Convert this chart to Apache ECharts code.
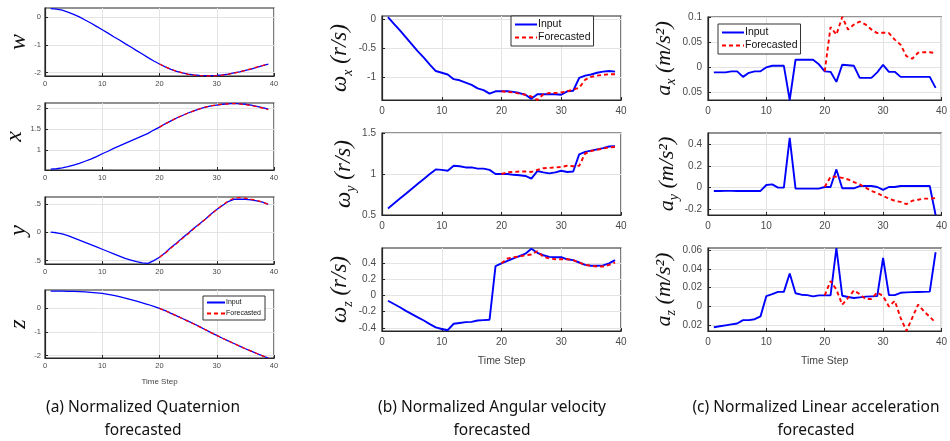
<!DOCTYPE html>
<html><head><meta charset="utf-8">
<script src="https://cdn.jsdelivr.net/npm/echarts@6/dist/echarts.min.js"></script>
<style>html,body{margin:0;padding:0;background:#fff}#c{width:950px;height:441px}</style>
</head><body><div id="c"></div>
<script>
// ---------- data ----------
const STEPS = [1,2,3,4,5,6,7,8,9,10,11,12,13,14,15,16,17,18,19,20,21,22,23,24,25,26,27,28,29,30,31,32,33,34,35,36,37,38,39];
const FC_STEPS = [20,21,22,23,24,25,26,27,28,29,30,31,32,33,34,35,36,37,38,39];

// (a) quaternion
const W_IN = [0.30,0.28,0.24,0.17,0.09,0.0,-0.11,-0.22,-0.34,-0.46,-0.58,-0.71,-0.83,-0.96,-1.08,-1.21,-1.33,-1.46,-1.58,-1.69,-1.79,-1.88,-1.95,-2.01,-2.05,-2.08,-2.10,-2.11,-2.11,-2.10,-2.08,-2.05,-2.01,-1.97,-1.92,-1.87,-1.81,-1.75,-1.69];
const W_FC = [-1.69,-1.79,-1.88,-1.95,-2.01,-2.06,-2.09,-2.11,-2.12,-2.12,-2.11,-2.09,-2.06,-2.02,-1.97,-1.92,-1.86,-1.80,-1.75,-1.69];
const X_IN = [0.54,0.55,0.57,0.60,0.64,0.68,0.73,0.78,0.84,0.91,0.97,1.04,1.10,1.16,1.22,1.28,1.34,1.40,1.48,1.55,1.63,1.70,1.77,1.83,1.89,1.94,1.99,2.03,2.06,2.08,2.10,2.11,2.12,2.11,2.10,2.08,2.05,2.02,1.98];
const X_FC = [1.55,1.63,1.70,1.77,1.83,1.89,1.94,1.99,2.03,2.06,2.09,2.10,2.11,2.12,2.11,2.09,2.07,2.04,2.01,1.97];
const Y_IN = [0.0,-0.01,-0.03,-0.06,-0.10,-0.14,-0.18,-0.22,-0.26,-0.30,-0.34,-0.38,-0.42,-0.46,-0.49,-0.52,-0.54,-0.55,-0.50,-0.44,-0.36,-0.27,-0.19,-0.10,-0.02,0.07,0.15,0.23,0.32,0.40,0.47,0.54,0.58,0.58,0.58,0.57,0.55,0.53,0.49];
const Y_FC = [-0.44,-0.37,-0.28,-0.20,-0.11,-0.03,0.06,0.14,0.23,0.31,0.40,0.48,0.55,0.60,0.61,0.60,0.58,0.56,0.53,0.49];
const Z_IN = [0.71,0.71,0.71,0.70,0.70,0.69,0.68,0.66,0.64,0.62,0.58,0.53,0.48,0.42,0.36,0.29,0.22,0.15,0.07,-0.01,-0.11,-0.22,-0.33,-0.44,-0.55,-0.66,-0.78,-0.91,-1.03,-1.15,-1.27,-1.38,-1.49,-1.60,-1.71,-1.81,-1.91,-2.01,-2.10];
const Z_FC = [-0.01,-0.11,-0.22,-0.33,-0.44,-0.56,-0.67,-0.79,-0.91,-1.03,-1.15,-1.27,-1.38,-1.49,-1.60,-1.71,-1.81,-1.91,-2.01,-2.10];

// (b) angular velocity
const WX_IN = [0.03,-0.085,-0.2,-0.32,-0.44,-0.56,-0.67,-0.79,-0.90,-0.93,-0.96,-1.04,-1.06,-1.10,-1.14,-1.20,-1.23,-1.29,-1.25,-1.25,-1.25,-1.26,-1.28,-1.31,-1.38,-1.30,-1.30,-1.30,-1.30,-1.31,-1.25,-1.24,-1.02,-0.98,-0.96,-0.93,-0.91,-0.90,-0.91];
const WX_FC = [-1.25,-1.26,-1.27,-1.29,-1.31,-1.34,-1.40,-1.30,-1.28,-1.28,-1.27,-1.25,-1.22,-1.19,-1.05,-1.00,-0.98,-0.965,-0.955,-0.955];
const WY_IN = [0.58,0.64,0.70,0.76,0.82,0.88,0.94,1.00,1.056,1.05,1.04,1.10,1.095,1.08,1.08,1.065,1.065,1.05,1.0,1.0,1.0,0.99,0.985,0.976,0.944,1.036,1.02,1.008,1.02,1.04,1.024,1.03,1.24,1.27,1.285,1.30,1.315,1.335,1.34];
const WY_FC = [1.0,1.02,1.025,1.03,1.03,1.025,1.05,1.07,1.075,1.08,1.085,1.10,1.095,1.10,1.25,1.28,1.295,1.31,1.325,1.33];
const WZ_IN = [-0.065,-0.105,-0.145,-0.19,-0.23,-0.27,-0.31,-0.355,-0.395,-0.415,-0.43,-0.35,-0.34,-0.33,-0.327,-0.31,-0.305,-0.30,0.365,0.40,0.43,0.46,0.49,0.52,0.58,0.53,0.50,0.48,0.475,0.475,0.45,0.44,0.41,0.38,0.37,0.37,0.375,0.40,0.44];
const WZ_FC = [0.40,0.46,0.475,0.485,0.50,0.51,0.55,0.48,0.46,0.45,0.45,0.45,0.44,0.41,0.38,0.37,0.36,0.36,0.38,0.41];

// (c) linear acceleration
const AX_IN = [-0.01,-0.01,-0.01,-0.008,-0.008,-0.019,-0.011,-0.008,-0.008,0.0,0.003,0.003,0.003,-0.065,0.015,0.015,0.015,0.015,0.006,-0.008,-0.009,-0.029,0.005,0.004,0.003,-0.021,-0.021,-0.021,-0.01,0.005,-0.009,-0.009,-0.019,-0.019,-0.019,-0.019,-0.019,-0.019,-0.041];
const AX_FC = [-0.008,0.08,0.065,0.10,0.075,0.085,0.091,0.085,0.075,0.068,0.069,0.068,0.055,0.045,0.022,0.017,0.029,0.03,0.03,0.028];
const AY_IN = [-0.03,-0.03,-0.029,-0.029,-0.03,-0.03,-0.03,-0.03,-0.03,0.024,0.03,0.0,0.0,0.455,-0.009,-0.009,-0.009,-0.009,-0.009,0.006,0.006,0.167,-0.006,-0.006,-0.006,0.015,0.015,0.015,0.006,-0.021,0.006,0.006,0.015,0.015,0.015,0.015,0.015,0.015,-0.25];
const AY_FC = [0.006,0.10,0.10,0.09,0.075,0.05,0.03,0.0,-0.03,-0.05,-0.075,-0.10,-0.12,-0.13,-0.15,-0.12,-0.11,-0.10,-0.10,-0.095];
const AZ_IN = [-0.022,-0.021,-0.02,-0.019,-0.018,-0.0145,-0.0145,-0.0135,-0.0105,0.011,0.013,0.0155,0.0155,0.035,0.014,0.0125,0.012,0.0107,0.0118,0.0118,0.0118,0.062,0.0114,0.010,0.009,0.0097,0.0104,0.0107,0.011,0.0514,0.012,0.012,0.0145,0.015,0.0152,0.0154,0.0155,0.0157,0.0575];
const AZ_FC = [0.0118,0.027,0.018,0.002,0.009,0.017,0.013,0.008,0.008,0.015,0.011,0.0,0.006,-0.012,-0.026,-0.012,0.002,-0.005,-0.011,-0.017];

// tick values and labels (as printed in the figure)
const X_TICKS = [0,10,20,30,40];
const W_TICKS = [-2,-1,0];          const W_LABELS = ['-2','-1','0'];
const QX_TICKS = [1,1.5,2];         const QX_LABELS = ['1','1.5','2'];
const QY_TICKS = [-0.5,0,0.5];      const QY_LABELS = ['.5','0','.5'];
const QZ_TICKS = [-2,-1,0];         const QZ_LABELS = ['-2','-1','0'];
const WX_TICKS = [-1,-0.5,0];       const WX_LABELS = ['-1','-0.5','0'];
const WY_TICKS = [0.5,1,1.5];       const WY_LABELS = ['0.5','1','1.5'];
const WZ_TICKS = [-0.4,-0.2,0,0.2,0.4]; const WZ_LABELS = ['-0.4','-0.2','0','0.2','0.4'];
const AX_TICKS = [-0.05,0,0.05,0.1];    const AX_LABELS = ['0.05','0','0.05','0.1'];
const AY_TICKS = [-0.2,0,0.2,0.4];      const AY_LABELS = ['-0.2','0','0.2','0.4'];
const AZ_TICKS = [-0.02,0,0.02,0.04,0.06]; const AZ_LABELS = ['0.02','0','0.02','0.04','0.06'];

const SERIES_NAMES = ['Input','Forecasted'];
const CAPTIONS = [
  ['(a) Normalized Quaternion','forecasted'],
  ['(b) Normalized Angular velocity','forecasted'],
  ['(c) Normalized Linear acceleration','forecasted']
];
const X_NAME = 'Time Step';

// ---------- layout ----------
const serifIt = {fontFamily:'Liberation Serif', fontStyle:'italic', color:'#111'};
const panels = [
  {inp:W_IN, fc:W_FC, ymin:-2.12, ymax:0.32, ticks:W_TICKS, labels:W_LABELS, g:{left:45,top:8,width:229,height:68}, col:0, name:'{m|w}'},
  {inp:X_IN, fc:X_FC, ymin:0.52, ymax:2.13, ticks:QX_TICKS, labels:QX_LABELS, g:{left:45,top:103,width:229,height:67}, col:0, name:'{m|x}'},
  {inp:Y_IN, fc:Y_FC, ymin:-0.56, ymax:0.62, ticks:QY_TICKS, labels:QY_LABELS, g:{left:45,top:197,width:229,height:67}, col:0, name:'{m|y}'},
  {inp:Z_IN, fc:Z_FC, ymin:-2.1, ymax:0.76, ticks:QZ_TICKS, labels:QZ_LABELS, g:{left:45,top:290,width:229,height:68}, col:0, name:'{m|z}', bottom:true},
  {inp:WX_IN, fc:WX_FC, ymin:-1.4, ymax:0.05, ticks:WX_TICKS, labels:WX_LABELS, g:{left:382,top:16,width:239,height:84}, col:1, name:'{m|ω}{s|x}{m| (r/s)}'},
  {inp:WY_IN, fc:WY_FC, ymin:0.5, ymax:1.5, ticks:WY_TICKS, labels:WY_LABELS, g:{left:382,top:133,width:239,height:82}, col:1, name:'{m|ω}{s|y}{m| (r/s)}'},
  {inp:WZ_IN, fc:WZ_FC, ymin:-0.44, ymax:0.59, ticks:WZ_TICKS, labels:WZ_LABELS, g:{left:382,top:248,width:239,height:83}, col:1, name:'{m|ω}{s|z}{m| (r/s)}', bottom:true},
  {inp:AX_IN, fc:AX_FC, ymin:-0.065, ymax:0.1, ticks:AX_TICKS, labels:AX_LABELS, g:{left:708,top:17,width:236,height:83}, col:2, name:'{m|a}{s|x}{m| (m/s²)}'},
  {inp:AY_IN, fc:AY_FC, ymin:-0.25, ymax:0.5, ticks:AY_TICKS, labels:AY_LABELS, g:{left:708,top:133,width:236,height:82}, col:2, name:'{m|a}{s|y}{m| (m/s²)}'},
  {inp:AZ_IN, fc:AZ_FC, ymin:-0.026, ymax:0.062, ticks:AZ_TICKS, labels:AZ_LABELS, g:{left:708,top:248,width:236,height:83}, col:2, name:'{m|a}{s|z}{m| (m/s²)}', bottom:true}
];
const colStyle = [
  {tick:7.5, lw:1.3, nameSize:24, subSize:14, gap:8, xname:8, xnameGap:20},
  {tick:10, lw:1.9, nameSize:23, subSize:14, gap:19, xname:10.5, xnameGap:25},
  {tick:10, lw:1.9, nameSize:22, subSize:14, gap:27, xname:10.5, xnameGap:25}
];

const grids=[], xAxes=[], yAxes=[], series=[];
panels.forEach((p,i)=>{
  const cs = colStyle[p.col];
  grids.push(Object.assign({show:true, borderColor:'#262626', borderWidth:1.2, backgroundColor:'#fff', containLabel:false}, p.g));
  xAxes.push({
    gridIndex:i, type:'value', min:0, max:40, interval:10,
    axisLine:{show:true, onZero:false, lineStyle:{color:'#262626', width:1.2}},
    axisTick:{show:true, inside:true, length:3, lineStyle:{color:'#262626'}},
    axisLabel:{fontSize:cs.tick, color:'#4a4a4a', margin:p.col===0?4:6, fontFamily:'Liberation Sans'},
    splitLine:{show:true, lineStyle:{color:'#e3e3e3', width:1}},
    name: p.bottom ? X_NAME : '', nameLocation:'middle', nameGap: cs.xnameGap,
    nameTextStyle:{fontSize:cs.xname, color:'#444', fontFamily:'Liberation Sans'}
  });
  yAxes.push({
    gridIndex:i, type:'value', min:p.ymin, max:p.ymax,
    axisLine:{show:true, onZero:false, lineStyle:{color:'#262626', width:1.2}},
    axisTick:{show:true, inside:true, length:3, customValues:p.ticks, lineStyle:{color:'#262626'}},
    axisLabel:{customValues:p.ticks, fontSize:cs.tick, color:'#4a4a4a', margin:p.col===0?4:6, fontFamily:'Liberation Sans',
      formatter:(v)=>{const k=p.ticks.findIndex(t=>Math.abs(t-v)<1e-9); return k>=0?p.labels[k]:String(v);}},
    splitLine:{show:true, lineStyle:{color:'#e3e3e3', width:1}},
    name:p.name, nameLocation:'middle', nameRotate:90, nameGap:cs.gap,
    nameTextStyle:{rich:{
      m:Object.assign({fontSize:cs.nameSize, lineHeight:cs.nameSize+6}, serifIt),
      s:Object.assign({fontSize:cs.subSize, lineHeight:cs.subSize, verticalAlign:'bottom'}, serifIt)
    }}
  });
  series.push({
    name:SERIES_NAMES[0], type:'line', xAxisIndex:i, yAxisIndex:i, showSymbol:false, symbol:'none', z:2,
    lineStyle:{color:'#0000ff', width:cs.lw}, itemStyle:{color:'#0000ff'},
    data:p.inp.map((v,k)=>[STEPS[k], v]), animation:false, clip:true
  });
  series.push({
    name:SERIES_NAMES[1], type:'line', xAxisIndex:i, yAxisIndex:i, showSymbol:false, symbol:'none', z:3,
    lineStyle:{color:'#ff0000', width:cs.lw, type:[4,3]}, itemStyle:{color:'#ff0000'},
    data:p.fc.map((v,k)=>[FC_STEPS[k], v]), animation:false, clip:true
  });
});

const legendBase = {orient:'vertical', data:SERIES_NAMES, selectedMode:false, backgroundColor:'#fff',
  borderColor:'#333', borderWidth:1, borderRadius:0, itemStyle:{opacity:0, borderWidth:0}};
const legends = [
  Object.assign({}, legendBase, {left:203, top:296, itemWidth:18, itemHeight:7, itemGap:4, padding:[3,4,3,3],
    textStyle:{fontSize:7, color:'#111', fontFamily:'Liberation Sans', padding:[0,0,0,-4]}}),
  Object.assign({}, legendBase, {left:511, top:16, itemWidth:22, itemHeight:10, itemGap:2, padding:[3,3,3,3],
    textStyle:{fontSize:10.5, color:'#111', fontFamily:'Liberation Sans', padding:[0,0,0,-4]}}),
  Object.assign({}, legendBase, {left:718, top:24, itemWidth:22, itemHeight:10, itemGap:2, padding:[3,3,3,3],
    textStyle:{fontSize:10.5, color:'#111', fontFamily:'Liberation Sans', padding:[0,0,0,-4]}})
];

const capX = [143, 492, 816];
const graphics = [];
CAPTIONS.forEach((c,i)=>{
  graphics.push({type:'text', style:{x:capX[i], y:408, text:c[0], textAlign:'center', textVerticalAlign:'middle',
    font:'15.5px "Noto Sans"', fill:'#111'}});
  graphics.push({type:'text', style:{x:capX[i], y:431, text:c[1], textAlign:'center', textVerticalAlign:'middle',
    font:'15.5px "Noto Sans"', fill:'#111'}});
});

const chart = echarts.init(document.getElementById('c'), null, {renderer:'canvas'});
chart.setOption({
  animation:false, backgroundColor:'#fff',
  grid:grids, xAxis:xAxes, yAxis:yAxes, series:series, legend:legends, graphic:graphics
});
</script></body></html>
